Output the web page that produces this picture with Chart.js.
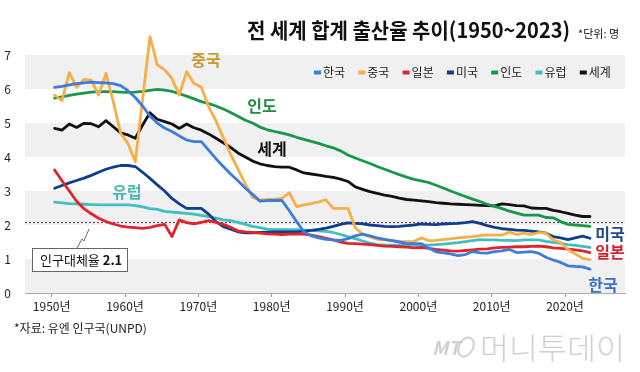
<!DOCTYPE html>
<html>
<head>
<meta charset="utf-8">
<script src="https://cdn.jsdelivr.net/npm/chart.js@4.4.1/dist/chart.umd.min.js"></script>
<style>
  html, body { margin: 0; padding: 0; background: #fff; }
  #wrap { width: 640px; height: 372px; position: relative; }
</style>
</head>
<body>
<div id="wrap"><canvas id="chart" width="640" height="372"></canvas></div>
<script>
// 1950 ~ 2023, one value per year
const startYear = 1950;
const decades = [1950, 1960, 1970, 1980, 1990, 2000, 2010, 2020];
const yTicks = [0, 1, 2, 3, 4, 5, 6, 7];
const replacementRate = 2.1;

const korea = [6.05,6.08,6.12,6.16,6.18,6.20,6.19,6.18,6.16,6.10,
  5.95,5.75,5.50,5.20,5.00,4.85,4.75,4.62,4.50,4.45,
  4.45,4.20,3.95,3.72,3.50,3.30,3.08,2.90,2.70,2.72,
  2.72,2.72,2.42,2.10,1.80,1.68,1.62,1.58,1.56,1.55,
  1.60,1.68,1.73,1.68,1.62,1.58,1.54,1.50,1.46,1.45,
  1.45,1.32,1.21,1.18,1.15,1.10,1.13,1.22,1.18,1.17,
  1.22,1.24,1.28,1.19,1.20,1.22,1.17,1.05,0.97,0.90,
  0.80,0.78,0.77,0.70];
const china = [5.82,5.66,6.48,6.05,6.28,6.26,5.82,6.46,5.63,4.70,
  4.40,3.86,5.70,7.54,6.71,6.56,6.31,5.82,6.51,6.17,
  6.05,5.48,5.06,4.57,4.08,3.64,3.21,2.81,2.74,2.75,
  2.76,2.78,2.95,2.54,2.59,2.63,2.68,2.74,2.49,2.49,
  2.49,1.92,1.73,1.65,1.58,1.56,1.54,1.52,1.51,1.52,
  1.62,1.54,1.55,1.57,1.59,1.62,1.64,1.66,1.69,1.71,
  1.70,1.70,1.79,1.72,1.76,1.72,1.78,1.76,1.56,1.48,
  1.28,1.15,1.02,0.98];
const japan = [3.62,3.30,3.00,2.70,2.48,2.33,2.20,2.10,2.03,1.97,
  1.94,1.92,1.90,1.93,1.98,2.02,1.66,2.15,2.07,2.03,
  2.08,2.13,2.08,2.02,1.93,1.83,1.80,1.78,1.76,1.74,
  1.73,1.72,1.73,1.74,1.73,1.70,1.66,1.61,1.56,1.50,
  1.46,1.45,1.44,1.42,1.40,1.38,1.37,1.36,1.35,1.33,
  1.34,1.31,1.28,1.26,1.24,1.23,1.25,1.27,1.29,1.30,
  1.33,1.34,1.35,1.36,1.36,1.37,1.38,1.36,1.33,1.31,
  1.29,1.27,1.24,1.19];
const usa = [3.08,3.16,3.24,3.31,3.38,3.46,3.55,3.64,3.70,3.75,
  3.75,3.72,3.55,3.37,3.18,3.00,2.78,2.62,2.49,2.49,
  2.49,2.32,2.10,1.95,1.88,1.80,1.77,1.77,1.78,1.79,
  1.80,1.80,1.80,1.80,1.82,1.84,1.87,1.91,1.96,2.02,
  2.06,2.05,2.03,2.00,1.98,1.96,1.95,1.96,1.98,2.00,
  2.03,2.02,2.01,2.03,2.04,2.05,2.07,2.10,2.05,1.98,
  1.93,1.89,1.87,1.85,1.84,1.82,1.80,1.76,1.66,1.62,
  1.57,1.62,1.67,1.61];
const india = [5.73,5.77,5.81,5.85,5.88,5.91,5.92,5.92,5.92,5.91,
  5.90,5.91,5.93,5.96,5.99,5.97,5.93,5.86,5.79,5.71,
  5.63,5.57,5.50,5.41,5.31,5.20,5.08,5.00,4.88,4.80,
  4.75,4.70,4.65,4.58,4.52,4.46,4.40,4.33,4.27,4.18,
  4.06,3.97,3.89,3.81,3.72,3.64,3.56,3.48,3.41,3.34,
  3.30,3.25,3.17,3.09,3.00,2.92,2.84,2.76,2.69,2.61,
  2.55,2.48,2.41,2.35,2.29,2.29,2.29,2.22,2.21,2.10,
  2.02,2.00,1.98,1.96];
const europe = [2.67,2.65,2.63,2.62,2.61,2.60,2.59,2.59,2.59,2.59,
  2.59,2.57,2.53,2.48,2.46,2.40,2.38,2.36,2.34,2.32,
  2.28,2.25,2.20,2.15,2.13,2.08,2.02,1.96,1.92,1.88,
  1.86,1.86,1.86,1.86,1.85,1.84,1.83,1.81,1.78,1.72,
  1.66,1.60,1.53,1.47,1.42,1.41,1.41,1.41,1.41,1.41,
  1.41,1.41,1.42,1.44,1.46,1.48,1.51,1.54,1.57,1.56,
  1.56,1.55,1.55,1.54,1.56,1.56,1.56,1.52,1.49,1.46,
  1.42,1.40,1.37,1.34];
const world = [4.84,4.79,4.97,4.87,4.99,4.98,4.89,5.07,4.89,4.71,
  4.65,4.55,4.94,5.30,5.11,5.04,4.97,4.84,4.97,4.86,
  4.79,4.68,4.55,4.42,4.28,4.12,4.00,3.88,3.80,3.75,
  3.72,3.70,3.70,3.62,3.53,3.50,3.47,3.43,3.40,3.35,
  3.28,3.12,3.05,2.98,2.93,2.88,2.84,2.79,2.75,2.73,
  2.71,2.69,2.66,2.64,2.62,2.61,2.60,2.59,2.58,2.57,
  2.56,2.62,2.60,2.57,2.56,2.50,2.49,2.49,2.43,2.39,
  2.34,2.29,2.25,2.25];

const seriesNames = ['한국', '중국', '일본', '미국', '인도', '유럽', '세계'];
const seriesValues = [korea, china, japan, usa, india, europe, world];
const seriesColors = ['#3b7ddb', '#f7ad48', '#e2232e', '#0f3e8e', '#17974a', '#3fbfbf', '#111111'];

const FONT = "'Noto Sans CJK KR', 'Noto Sans', sans-serif";

function toPoints(values) {
  return values.map((v, i) => ({ x: startYear + i + 0.4, y: v }));
}

const datasets = [];
for (let i = 0; i < seriesNames.length; i++) {
  datasets.push({
    label: seriesNames[i],
    data: toPoints(seriesValues[i]),
    borderColor: seriesColors[i],
    backgroundColor: seriesColors[i],
    borderWidth: 2.8,
    pointRadius: 0,
    tension: 0,
    borderJoinStyle: 'round',
    borderCapStyle: 'round'
  });
}

// grey bands + replacement-rate dotted line
const backdrop = {
  id: 'backdrop',
  beforeDatasetsDraw(chart) {
    const ctx = chart.ctx;
    const y = chart.scales.y;
    const left = chart.chartArea.left, right = chart.chartArea.right;
    ctx.save();
    ctx.fillStyle = '#f0f0f0';
    [[6, 7], [4, 5], [2, 3], [0, 1]].forEach(b => {
      const top = y.getPixelForValue(b[1]);
      const bot = y.getPixelForValue(b[0]);
      ctx.fillRect(left, top, right - left, bot - top);
    });
    const ry = Math.round(y.getPixelForValue(replacementRate)) + 0.5;
    ctx.strokeStyle = '#555';
    ctx.lineWidth = 1.2;
    ctx.setLineDash([2, 2]);
    ctx.beginPath();
    ctx.moveTo(left, ry);
    ctx.lineTo(right, ry);
    ctx.stroke();
    ctx.restore();
  }
};

// titles, legend, labels, notes
const texts = {
  id: 'texts',
  afterDatasetsDraw(chart) {
    const ctx = chart.ctx;
    ctx.save();

    // title
    const title = '전 세계 합계 출산율 추이(1950~2023)';
    ctx.font = 'bold 21px ' + FONT;
    ctx.fillStyle = '#111';
    ctx.textBaseline = 'middle';
    ctx.textAlign = 'left';
    const tw = ctx.measureText(title).width;
    ctx.save();
    ctx.translate(247, 30);
    ctx.scale(323 / tw, 1);
    ctx.fillText(title, 0, 0);
    ctx.restore();
    ctx.font = '11px ' + FONT;
    ctx.fillText('*단위: 명', 578, 34);

    // legend
    let lx = 314;
    ctx.font = '12px ' + FONT;
    for (let i = 0; i < seriesNames.length; i++) {
      ctx.fillStyle = seriesColors[i];
      ctx.fillRect(lx, 70.5, 7, 4);
      ctx.fillStyle = '#222';
      ctx.fillText(seriesNames[i], lx + 9, 72.5);
      lx += 44.3;
    }

    // series labels
    ctx.font = 'bold 16px ' + FONT;
    ctx.textAlign = 'center';
    const labels = [
      ['중국', 206, 60, '#c99a2d'],
      ['인도', 262, 106, '#218c3c'],
      ['세계', 272, 149, '#111'],
      ['유럽', 127, 192, '#4bb8b3'],
      ['미국', 610, 234, '#1c4a8c'],
      ['일본', 610, 252, '#d5222c'],
      ['한국', 603, 285, '#3a6fce']
    ];
    labels.forEach(l => {
      ctx.fillStyle = l[3];
      ctx.fillText(l[0], l[1], l[2]);
    });

    // replacement rate box
    ctx.strokeStyle = '#666';
    ctx.lineWidth = 1;
    ctx.beginPath();
    ctx.moveTo(77, 248);
    ctx.lineTo(82, 239);
    ctx.lineTo(84, 241);
    ctx.lineTo(89, 229);
    ctx.stroke();
    ctx.fillStyle = '#fff';
    ctx.fillRect(32.5, 248.5, 95, 23);
    ctx.strokeRect(32.5, 248.5, 95, 23);
    ctx.textAlign = 'left';
    ctx.fillStyle = '#111';
    ctx.font = '13px ' + FONT;
    const a = '인구대체율 ';
    ctx.fillText(a, 40, 260.5);
    const aw = ctx.measureText(a).width;
    ctx.font = 'bold 13px ' + FONT;
    ctx.fillText('2.1', 40 + aw, 260.5);

    // source
    ctx.font = '12px ' + FONT;
    ctx.fillStyle = '#222';
    ctx.fillText('*자료: 유엔 인구국(UNPD)', 14, 328);

    // watermark
    ctx.fillStyle = '#d0d0d0';
    ctx.font = 'italic bold 19px ' + FONT;
    ctx.fillText('MT', 432, 348);
    ctx.strokeStyle = '#d0d0d0';
    ctx.lineWidth = 2;
    ctx.beginPath();
    ctx.ellipse(466, 347, 7, 10, 0.5, 0, Math.PI * 2);
    ctx.stroke();
    ctx.font = '300 30px ' + FONT;
    const wm = '머니투데이';
    const ww = ctx.measureText(wm).width;
    ctx.save();
    ctx.translate(480, 348);
    ctx.scale(145 / ww, 1);
    ctx.fillText(wm, 0, 0);
    ctx.restore();

    ctx.restore();
  }
};

new Chart(document.getElementById('chart'), {
  type: 'line',
  data: { datasets: datasets },
  options: {
    responsive: false,
    animation: false,
    layout: { padding: { left: 0, right: 15, top: 34.6, bottom: 49 } },
    plugins: { legend: { display: false }, tooltip: { enabled: false }, title: { display: false } },
    scales: {
      x: {
        type: 'linear',
        min: 1946.36,
        max: 2028.18,
        afterBuildTicks: s => { s.ticks = decades.map(v => ({ value: v })); },
        afterFit: s => { s.height = 30; },
        ticks: {
          callback: v => v + '년',
          color: '#222',
          font: { family: FONT, size: 12 },
          padding: 2,
          maxRotation: 0,
          autoSkip: false
        },
        grid: { drawOnChartArea: false, tickLength: 4, color: '#999' },
        border: { color: '#aaa', width: 1 }
      },
      y: {
        min: 0,
        max: 7.6,
        afterBuildTicks: s => { s.ticks = yTicks.map(v => ({ value: v })); },
        afterFit: s => { s.width = 25; },
        ticks: { color: '#222', font: { family: FONT, size: 12 }, padding: 6 },
        grid: { display: false },
        border: { display: false }
      }
    }
  },
  plugins: [backdrop, texts]
});
</script>
</body>
</html>
